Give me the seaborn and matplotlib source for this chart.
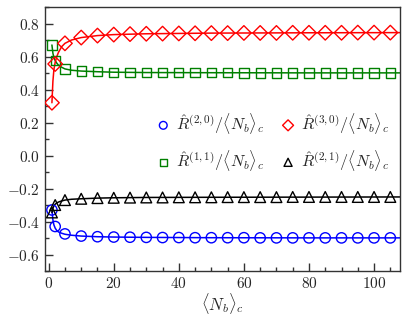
import matplotlib
matplotlib.use("Agg")
import matplotlib.pyplot as plt
import seaborn as sns
import numpy as np
from matplotlib.ticker import MultipleLocator, FuncFormatter

# marker positions
nb = [1, 2, 5, 10, 15, 20, 25, 30, 35, 40, 45, 50, 55, 60, 65, 70, 75, 80, 85, 90, 95, 100, 105]
r20 = [-0.33, -0.43, -0.475, -0.488, -0.492, -0.494, -0.495, -0.496, -0.497, -0.497, -0.498, -0.498,
       -0.498, -0.498, -0.499, -0.499, -0.499, -0.499, -0.499, -0.499, -0.499, -0.499, -0.499]
r11 = [0.67, 0.575, 0.525, 0.512, 0.508, 0.505, 0.504, 0.503, 0.503, 0.502, 0.502, 0.502,
       0.502, 0.501, 0.501, 0.501, 0.501, 0.501, 0.501, 0.501, 0.501, 0.501, 0.501]
r30 = [0.32, 0.555, 0.68, 0.715, 0.727, 0.733, 0.736, 0.738, 0.739, 0.740, 0.741, 0.742,
       0.742, 0.743, 0.743, 0.743, 0.744, 0.744, 0.744, 0.744, 0.745, 0.745, 0.745]
r21 = [-0.345, -0.3, -0.27, -0.262, -0.258, -0.256, -0.255, -0.254, -0.254, -0.253, -0.253, -0.253,
       -0.252, -0.252, -0.252, -0.252, -0.251, -0.251, -0.251, -0.251, -0.251, -0.251, -0.251]

# curves (denser near the start)
nb_line = [1, 1.3, 1.6, 2, 2.5, 3, 4, 5, 7, 10, 15, 20, 30, 50, 80, 108]
l20 = [-0.33, -0.39, -0.42, -0.44, -0.455, -0.463, -0.471, -0.477, -0.483, -0.488, -0.492,
       -0.494, -0.496, -0.498, -0.499, -0.499]
l11 = [0.67, 0.62, 0.595, 0.575, 0.56, 0.548, 0.535, 0.525, 0.517, 0.512, 0.508, 0.505,
       0.503, 0.502, 0.501, 0.501]
l30 = [0.32, 0.45, 0.52, 0.565, 0.6, 0.625, 0.66, 0.68, 0.7, 0.715, 0.727, 0.733, 0.738,
       0.742, 0.744, 0.745]
l21 = [-0.345, -0.32, -0.305, -0.295, -0.287, -0.282, -0.275, -0.27, -0.265, -0.262, -0.258,
       -0.256, -0.254, -0.253, -0.252, -0.251]

sns.set_style("ticks")
plt.rcParams["mathtext.fontset"] = "cm"
plt.rcParams["font.family"] = ["DejaVu Serif"]

fig, ax = plt.subplots(figsize=(4.07, 3.2), dpi=100)
fig.subplots_adjust(left=0.11, right=0.983, bottom=0.153, top=0.978)

series = [
    (l20, r20, "blue", "o", r"$\hat{R}^{(2,0)}/\langle N_b\rangle_c$", 55),
    (l11, r11, "green", "s", r"$\hat{R}^{(1,1)}/\langle N_b\rangle_c$", 45),
    (l30, r30, "red", "D", r"$\hat{R}^{(3,0)}/\langle N_b\rangle_c$", 55),
    (l21, r21, "black", "^", r"$\hat{R}^{(2,1)}/\langle N_b\rangle_c$", 60),
]

for line_y, pts, color, marker, label, size in series:
    sns.lineplot(x=nb_line, y=line_y, color=color, lw=1.1, ax=ax, legend=False)
    sns.scatterplot(x=nb, y=pts, marker=marker, s=size, facecolors="none",
                    edgecolor=color, linewidth=1.0, label=label, ax=ax, zorder=3)

ax.set_xlim(-1.2, 108)
ax.set_ylim(-0.7, 0.9)
ax.xaxis.set_major_locator(MultipleLocator(20))
ax.xaxis.set_minor_locator(MultipleLocator(5))
ax.yaxis.set_major_locator(MultipleLocator(0.2))
ax.yaxis.set_minor_locator(MultipleLocator(0.1))
ax.xaxis.set_major_formatter(FuncFormatter(lambda v, p: f"${v:.0f}$"))
ax.yaxis.set_major_formatter(FuncFormatter(lambda v, p: f"${v:.1f}$"))
ax.tick_params(which="both", direction="in", labelsize=11, width=1, color="#333333")
ax.tick_params(which="major", length=6)
ax.tick_params(which="minor", length=3)
for s in ax.spines.values():
    s.set_visible(True)
    s.set_linewidth(1.0)
    s.set_color("#333333")

ax.set_xlabel(r"$\langle N_b\rangle_c$", fontsize=12, labelpad=0)
ax.set_ylabel("")

ax.legend(loc="center right", ncol=2, frameon=False, fontsize=11.5, markerscale=0.75,
          handletextpad=0.3, columnspacing=1.0, borderaxespad=0.3,
          handlelength=1.0, labelspacing=0.75, bbox_to_anchor=(1.0, 0.49))

fig.savefig("out.png", dpi=100)
